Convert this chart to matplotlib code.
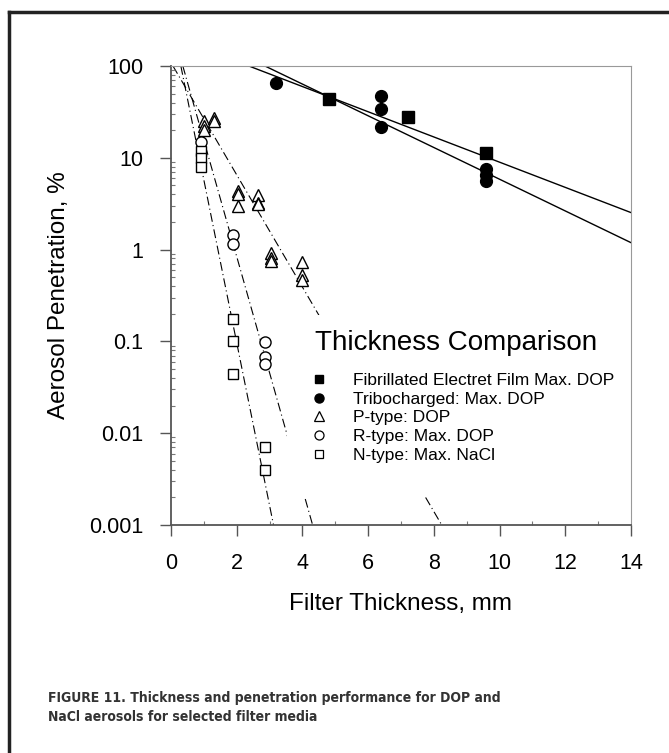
import matplotlib
matplotlib.use("Agg")
import matplotlib.pyplot as plt
from matplotlib.patches import Rectangle
from matplotlib.lines import Line2D

plt.rcParams['font.family'] = ['Liberation Sans', 'DejaVu Sans']

# data (thickness in mm, penetration in %)
electret_x = [4.8, 7.2, 9.6]
electret_y = [44, 27.5, 11.3]
tribo_x = [3.2, 6.4, 6.4, 6.4, 9.6, 9.6, 9.6]
tribo_y = [66, 47, 34, 21.5, 7.6, 6.5, 5.6]
ptype_x = [1.0, 1.0, 1.0, 1.3, 1.3, 2.05, 2.05, 2.05, 2.65, 2.65, 2.65,
           3.05, 3.05, 3.05, 4.0, 4.0, 4.0]
ptype_y = [25, 22, 20, 27, 25, 4.4, 4.0, 3.0, 3.9, 3.2, 3.1,
           0.92, 0.82, 0.75, 0.73, 0.53, 0.47]
rtype_x = [0.92, 1.9, 1.9, 2.85, 2.85, 2.85]
rtype_y = [15, 1.46, 1.16, 0.098, 0.067, 0.057]
ntype_x = [0.9, 0.9, 0.9, 1.9, 1.9, 1.9, 2.85, 2.85]
ntype_y = [12, 10, 8, 0.176, 0.1, 0.044, 0.007, 0.004]

# fitted lines (end points)
electret_fit_x = [2.37, 14]
electret_fit_y = [100, 2.53]
tribo_fit_x = [2.86, 14]
tribo_fit_y = [100, 1.19]
ptype_fit_x = [0.06, 8.24]
ptype_fit_y = [100, 0.001]
rtype_fit_x = [0.36, 4.31]
rtype_fit_y = [100, 0.001]
ntype_fit_x = [0.30, 3.12]
ntype_fit_y = [100, 0.001]

x_ticks = [0, 2, 4, 6, 8, 10, 12, 14]
y_ticks = [0.001, 0.01, 0.1, 1, 10, 100]
y_tick_labels = ['0.001', '0.01', '0.1', '1', '10', '100']

labels = ['Fibrillated Electret Film Max. DOP', 'Tribocharged: Max. DOP',
          'P-type: DOP', 'R-type: Max. DOP', 'N-type: Max. NaCl']

W, H = 669, 753
fig = plt.figure(figsize=(W / 100, H / 100), dpi=100)
ax = fig.add_axes([171 / W, 1 - 525 / H, 460 / W, 459 / H])

# fit lines
ax.plot(electret_fit_x, electret_fit_y, color='black', lw=1.0, zorder=1.5)
ax.plot(tribo_fit_x, tribo_fit_y, color='black', lw=1.0, zorder=1.5)
dashdot = (0, (8, 3, 1, 3))
for fx, fy in [(ptype_fit_x, ptype_fit_y), (rtype_fit_x, rtype_fit_y),
               (ntype_fit_x, ntype_fit_y)]:
    ax.plot(fx, fy, color='black', lw=0.8, linestyle=dashdot, zorder=1.5)

# white box behind the legend hides the lines
ax.add_patch(Rectangle((0.252, 0.061), 0.74, 0.397, transform=ax.transAxes,
                       facecolor='white', edgecolor='none', zorder=2.2))

# data points
ax.plot(electret_x, electret_y, 's', color='black', ms=8, zorder=3)
ax.plot(tribo_x, tribo_y, 'o', color='black', ms=8.5, zorder=3)
ax.plot(ptype_x, ptype_y, '^', mfc='white', mec='black', mew=1.0, ms=8, zorder=3)
ax.plot(rtype_x, rtype_y, 'o', mfc='white', mec='black', mew=1.0, ms=8, zorder=3)
ax.plot(ntype_x, ntype_y, 's', mfc='white', mec='black', mew=1.0, ms=7.5, zorder=3)

ax.set_yscale('log')
ax.set_xlim(0, 14)
ax.set_ylim(0.001, 100)
ax.set_xticks(x_ticks)
ax.set_xticklabels([str(t) for t in x_ticks])
ax.set_yticks(y_ticks)
ax.set_yticklabels(y_tick_labels)
ax.set_xticks([t + 1 for t in x_ticks[:-1]], minor=True)
ax.tick_params(which='major', direction='out', length=8, width=1.0,
               color='#555555', labelsize=15.5, pad=12)
ax.tick_params(which='minor', direction='in', length=3, width=0.8,
               color='#777777')

for side in ['left', 'bottom']:
    ax.spines[side].set_color('#555555')
    ax.spines[side].set_linewidth(1.3)
for side in ['top', 'right']:
    ax.spines[side].set_color('#999999')
    ax.spines[side].set_linewidth(0.8)

ax.set_xlabel('Filter Thickness, mm', fontsize=17.5, labelpad=14)
ax.set_ylabel('Aerosol Penetration, %', fontsize=17.5, labelpad=14)

# legend
fig.text(315 / W, 1 - 343 / H, 'Thickness Comparison', fontsize=20,
         ha='left', va='center', zorder=6)
handles = [
    Line2D([], [], ls='none', marker='s', color='black', ms=6),
    Line2D([], [], ls='none', marker='o', color='black', ms=6.5),
    Line2D([], [], ls='none', marker='^', mfc='white', mec='black', mew=0.9, ms=6.5),
    Line2D([], [], ls='none', marker='o', mfc='white', mec='black', mew=0.9, ms=6.5),
    Line2D([], [], ls='none', marker='s', mfc='white', mec='black', mew=0.9, ms=6),
]
leg = ax.legend(handles, labels, loc='upper left',
                bbox_to_anchor=(310 / W, 1 - 373 / H),
                bbox_transform=fig.transFigure, frameon=False, fontsize=12.5,
                borderpad=0, borderaxespad=0, handlelength=1.0,
                handletextpad=1.45, labelspacing=0.2)
leg.set_zorder(6)

# page border (left and top)
fig.add_artist(Line2D([9 / W, 9 / W], [0, 1 - 12 / H], color='#222222',
                      lw=2.5, transform=fig.transFigure))
fig.add_artist(Line2D([9 / W, 1], [1 - 12 / H, 1 - 12 / H], color='#222222',
                      lw=2.5, transform=fig.transFigure))

fig.text(48 / W, 1 - 691 / H,
         'FIGURE 11. Thickness and penetration performance for DOP and\n'
         'NaCl aerosols for selected filter media',
         family='DejaVu Sans', stretch='condensed', weight='bold',
         fontsize=10, color='#333333', ha='left', va='top', linespacing=1.45)

fig.savefig('out.png', dpi=100)
